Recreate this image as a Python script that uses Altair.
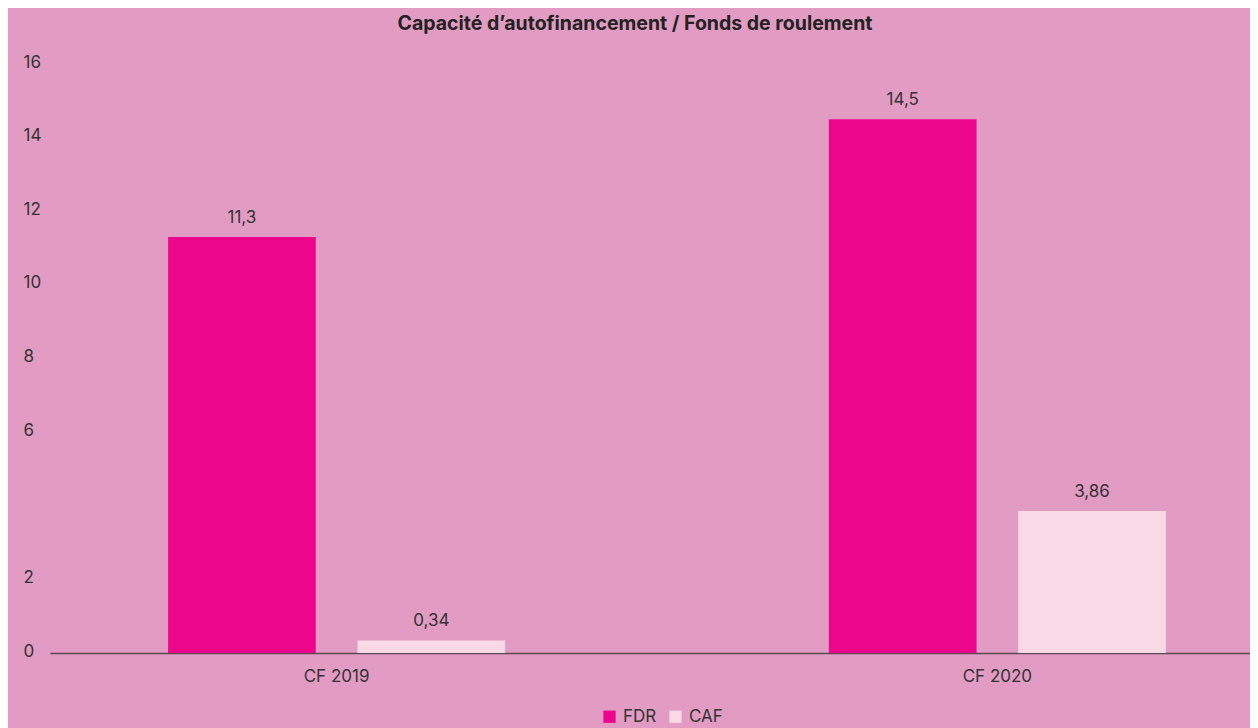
import altair as alt
import pandas as pd

groups = ["CF 2019", "CF 2019", "CF 2020", "CF 2020"]
series = ["FDR", "CAF", "FDR", "CAF"]
values = [11.3, 0.34, 14.5, 3.86]

df = pd.DataFrame({"groupe": groups, "serie": series, "valeur": values})

FONT = "Inter"
TXT = "#333333"
BG = "#E29BC3"
FS = 17

base = alt.Chart(df).encode(
    x=alt.X(
        "groupe:N",
        sort=["CF 2019", "CF 2020"],
        scale=alt.Scale(paddingInner=0.49, paddingOuter=0.153, align=0.584),
        axis=alt.Axis(
            title=None, labelAngle=0, ticks=False, tickSize=0, labelPadding=15,
            labelFont=FONT, labelFontSize=FS, labelColor=TXT,
            domainColor="#5a4a55", domainWidth=1.5, grid=False,
        ),
    ),
    xOffset=alt.XOffset(
        "serie:N", sort=["FDR", "CAF"],
        scale=alt.Scale(paddingInner=0.22, paddingOuter=0),
    ),
    y=alt.Y(
        "valeur:Q",
        scale=alt.Scale(domain=[0, 16], nice=False),
        axis=alt.Axis(
            title=None, values=[0, 2, 4, 6, 8, 10, 12, 14, 16],
            labelExpr="datum.value == 4 ? '' : datum.label",
            ticks=False, tickSize=0, domain=False, grid=False,
            labelAlign="left", labelPadding=27, labelOffset=-2,
            labelFont=FONT, labelFontSize=FS, labelColor=TXT,
        ),
    ),
)

bars = base.mark_bar().encode(
    color=alt.Color(
        "serie:N",
        sort=["FDR", "CAF"],
        scale=alt.Scale(domain=["FDR", "CAF"], range=["#EC068C", "#F8D9E5"]),
        legend=alt.Legend(
            title=None, orient="none", direction="horizontal",
            legendX=551, legendY=644, symbolType="square", symbolSize=150,
            symbolStrokeWidth=0, labelFont=FONT, labelFontSize=FS,
            labelColor=TXT, labelOffset=5, columnPadding=10,
        ),
    )
)

labels = base.mark_text(
    font=FONT, fontSize=FS, color=TXT, baseline="alphabetic", dy=-14
).transform_calculate(
    lbl="replace(toString(datum.valeur), '.', ',')"
).encode(text="lbl:N")

chart = (
    alt.layer(bars, labels)
    .properties(
        width=1200,
        height=589,
        background=BG,
        padding={"left": 42, "top": 56, "right": 0, "bottom": 75},
        autosize=alt.AutoSizeParams(type="none"),
        title=alt.TitleParams(
            "Capacité d’autofinancement / Fonds de roulement",
            font=FONT, fontSize=19.5, fontWeight="bold", color="#222222",
            anchor="middle", dx=-15, offset=19,
        ),
    )
    .configure_view(stroke=None)
)

chart.save("out.html", embed_options={"renderer": "svg", "actions": False})
